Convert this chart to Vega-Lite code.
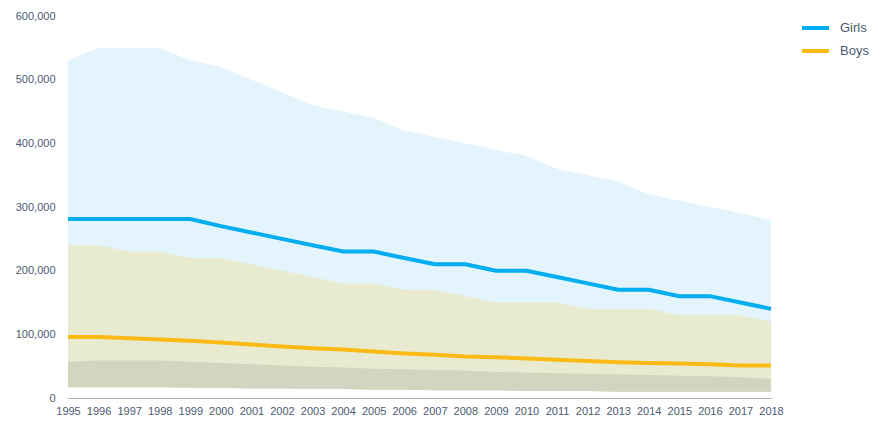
{
  "$schema": "https://vega.github.io/schema/vega-lite/v6.json",
  "width": 703,
  "height": 382,
  "autosize": {"type": "none"},
  "padding": {"left": 68, "top": 16, "right": 114, "bottom": 23},
  "background": "white",
  "config": {
    "view": {"stroke": null},
    "font": "Liberation Sans",
    "axisX": {"ticks": false, "grid": false, "domainColor": "#a7b1bf", "domainWidth": 1, "labelColor": "#4b5a70", "labelFontSize": 11, "labelPadding": 7, "labelFlush": false, "labelOverlap": false, "title": null},
    "axisY": {"ticks": false, "grid": false, "domain": false, "labelColor": "#4b5a70", "labelFontSize": 11, "labelPadding": 13, "title": null}
  },
  "datasets": {
    "bands": [
      {"year": 1995, "blue_top": 530000, "olive_top": 240000, "grey_top": 57000, "grey_bottom": 17000},
      {"year": 1996, "blue_top": 550000, "olive_top": 240000, "grey_top": 59000, "grey_bottom": 17000},
      {"year": 1997, "blue_top": 550000, "olive_top": 230000, "grey_top": 59000, "grey_bottom": 17000},
      {"year": 1998, "blue_top": 550000, "olive_top": 230000, "grey_top": 59000, "grey_bottom": 17000},
      {"year": 1999, "blue_top": 530000, "olive_top": 220000, "grey_top": 57000, "grey_bottom": 16000},
      {"year": 2000, "blue_top": 520000, "olive_top": 220000, "grey_top": 55000, "grey_bottom": 16000},
      {"year": 2001, "blue_top": 500000, "olive_top": 210000, "grey_top": 53000, "grey_bottom": 15000},
      {"year": 2002, "blue_top": 480000, "olive_top": 200000, "grey_top": 51000, "grey_bottom": 15000},
      {"year": 2003, "blue_top": 460000, "olive_top": 190000, "grey_top": 49000, "grey_bottom": 14000},
      {"year": 2004, "blue_top": 450000, "olive_top": 180000, "grey_top": 48000, "grey_bottom": 14000},
      {"year": 2005, "blue_top": 440000, "olive_top": 180000, "grey_top": 46000, "grey_bottom": 13000},
      {"year": 2006, "blue_top": 420000, "olive_top": 170000, "grey_top": 45000, "grey_bottom": 13000},
      {"year": 2007, "blue_top": 410000, "olive_top": 170000, "grey_top": 44000, "grey_bottom": 12000},
      {"year": 2008, "blue_top": 400000, "olive_top": 160000, "grey_top": 43000, "grey_bottom": 12000},
      {"year": 2009, "blue_top": 390000, "olive_top": 150000, "grey_top": 41000, "grey_bottom": 12000},
      {"year": 2010, "blue_top": 380000, "olive_top": 150000, "grey_top": 40000, "grey_bottom": 11000},
      {"year": 2011, "blue_top": 360000, "olive_top": 150000, "grey_top": 39000, "grey_bottom": 11000},
      {"year": 2012, "blue_top": 350000, "olive_top": 140000, "grey_top": 38000, "grey_bottom": 11000},
      {"year": 2013, "blue_top": 340000, "olive_top": 140000, "grey_top": 37000, "grey_bottom": 10000},
      {"year": 2014, "blue_top": 320000, "olive_top": 140000, "grey_top": 36000, "grey_bottom": 10000},
      {"year": 2015, "blue_top": 310000, "olive_top": 130000, "grey_top": 35000, "grey_bottom": 10000},
      {"year": 2016, "blue_top": 300000, "olive_top": 130000, "grey_top": 34000, "grey_bottom": 10000},
      {"year": 2017, "blue_top": 290000, "olive_top": 130000, "grey_top": 33000, "grey_bottom": 10000},
      {"year": 2018, "blue_top": 280000, "olive_top": 120000, "grey_top": 30000, "grey_bottom": 10000}
    ],
    "lines": [
      {"year": 1995, "group": "Girls", "value": 281000},
      {"year": 1996, "group": "Girls", "value": 281000},
      {"year": 1997, "group": "Girls", "value": 281000},
      {"year": 1998, "group": "Girls", "value": 281000},
      {"year": 1999, "group": "Girls", "value": 281000},
      {"year": 2000, "group": "Girls", "value": 270000},
      {"year": 2001, "group": "Girls", "value": 260000},
      {"year": 2002, "group": "Girls", "value": 250000},
      {"year": 2003, "group": "Girls", "value": 240000},
      {"year": 2004, "group": "Girls", "value": 230000},
      {"year": 2005, "group": "Girls", "value": 230000},
      {"year": 2006, "group": "Girls", "value": 220000},
      {"year": 2007, "group": "Girls", "value": 210000},
      {"year": 2008, "group": "Girls", "value": 210000},
      {"year": 2009, "group": "Girls", "value": 200000},
      {"year": 2010, "group": "Girls", "value": 200000},
      {"year": 2011, "group": "Girls", "value": 190000},
      {"year": 2012, "group": "Girls", "value": 180000},
      {"year": 2013, "group": "Girls", "value": 170000},
      {"year": 2014, "group": "Girls", "value": 170000},
      {"year": 2015, "group": "Girls", "value": 160000},
      {"year": 2016, "group": "Girls", "value": 160000},
      {"year": 2017, "group": "Girls", "value": 150000},
      {"year": 2018, "group": "Girls", "value": 140000},
      {"year": 1995, "group": "Boys", "value": 96000},
      {"year": 1996, "group": "Boys", "value": 96000},
      {"year": 1997, "group": "Boys", "value": 94000},
      {"year": 1998, "group": "Boys", "value": 92000},
      {"year": 1999, "group": "Boys", "value": 90000},
      {"year": 2000, "group": "Boys", "value": 87000},
      {"year": 2001, "group": "Boys", "value": 84000},
      {"year": 2002, "group": "Boys", "value": 81000},
      {"year": 2003, "group": "Boys", "value": 78000},
      {"year": 2004, "group": "Boys", "value": 76000},
      {"year": 2005, "group": "Boys", "value": 73000},
      {"year": 2006, "group": "Boys", "value": 70000},
      {"year": 2007, "group": "Boys", "value": 68000},
      {"year": 2008, "group": "Boys", "value": 65000},
      {"year": 2009, "group": "Boys", "value": 64000},
      {"year": 2010, "group": "Boys", "value": 62000},
      {"year": 2011, "group": "Boys", "value": 60000},
      {"year": 2012, "group": "Boys", "value": 58000},
      {"year": 2013, "group": "Boys", "value": 56000},
      {"year": 2014, "group": "Boys", "value": 55000},
      {"year": 2015, "group": "Boys", "value": 54000},
      {"year": 2016, "group": "Boys", "value": 53000},
      {"year": 2017, "group": "Boys", "value": 51000},
      {"year": 2018, "group": "Boys", "value": 51000}
    ]
  },
  "layer": [
    {
      "data": {"name": "bands"},
      "mark": {"type": "area", "color": "#e3f4fc"},
      "encoding": {
        "x": {
          "field": "year", "type": "quantitative",
          "scale": {"domain": [1995, 2018], "nice": false, "zero": false},
          "axis": {"format": "d", "values": [1995,1996,1997,1998,1999,2000,2001,2002,2003,2004,2005,2006,2007,2008,2009,2010,2011,2012,2013,2014,2015,2016,2017,2018]}
        },
        "y": {
          "field": "blue_top", "type": "quantitative",
          "scale": {"domain": [0, 600000], "nice": false},
          "axis": {"format": ",.0f", "values": [0, 100000, 200000, 300000, 400000, 500000, 600000]}
        },
        "y2": {"field": "grey_bottom"}
      }
    },
    {
      "data": {"name": "bands"},
      "mark": {"type": "area", "color": "#e8ebcf"},
      "encoding": {
        "x": {"field": "year", "type": "quantitative", "axis": {"format": "d", "values": [1995,1996,1997,1998,1999,2000,2001,2002,2003,2004,2005,2006,2007,2008,2009,2010,2011,2012,2013,2014,2015,2016,2017,2018]}},
        "y": {"field": "olive_top", "type": "quantitative", "axis": {"format": ",.0f", "values": [0, 100000, 200000, 300000, 400000, 500000, 600000]}},
        "y2": {"field": "grey_bottom"}
      }
    },
    {
      "data": {"name": "bands"},
      "mark": {"type": "area", "color": "#d2d5c0"},
      "encoding": {
        "x": {"field": "year", "type": "quantitative", "axis": {"format": "d", "values": [1995,1996,1997,1998,1999,2000,2001,2002,2003,2004,2005,2006,2007,2008,2009,2010,2011,2012,2013,2014,2015,2016,2017,2018]}},
        "y": {"field": "grey_top", "type": "quantitative", "axis": {"format": ",.0f", "values": [0, 100000, 200000, 300000, 400000, 500000, 600000]}},
        "y2": {"field": "grey_bottom"}
      }
    },
    {
      "data": {"name": "lines"},
      "mark": {"type": "line", "strokeWidth": 4},
      "encoding": {
        "x": {"field": "year", "type": "quantitative", "axis": {"format": "d", "values": [1995,1996,1997,1998,1999,2000,2001,2002,2003,2004,2005,2006,2007,2008,2009,2010,2011,2012,2013,2014,2015,2016,2017,2018]}},
        "y": {"field": "value", "type": "quantitative", "axis": {"format": ",.0f", "values": [0, 100000, 200000, 300000, 400000, 500000, 600000]}},
        "color": {
          "field": "group", "type": "nominal",
          "scale": {"domain": ["Girls", "Boys"], "range": ["#00aeef", "#fcbb14"]},
          "legend": {
            "title": null, "orient": "none", "legendX": 732, "legendY": 2,
            "symbolType": "stroke", "symbolSize": 729, "symbolStrokeWidth": 4,
            "labelFontSize": 13, "labelColor": "#4b5a70", "labelOffset": 9,
            "clipHeight": 20, "rowPadding": 3
          }
        }
      }
    }
  ]
}
